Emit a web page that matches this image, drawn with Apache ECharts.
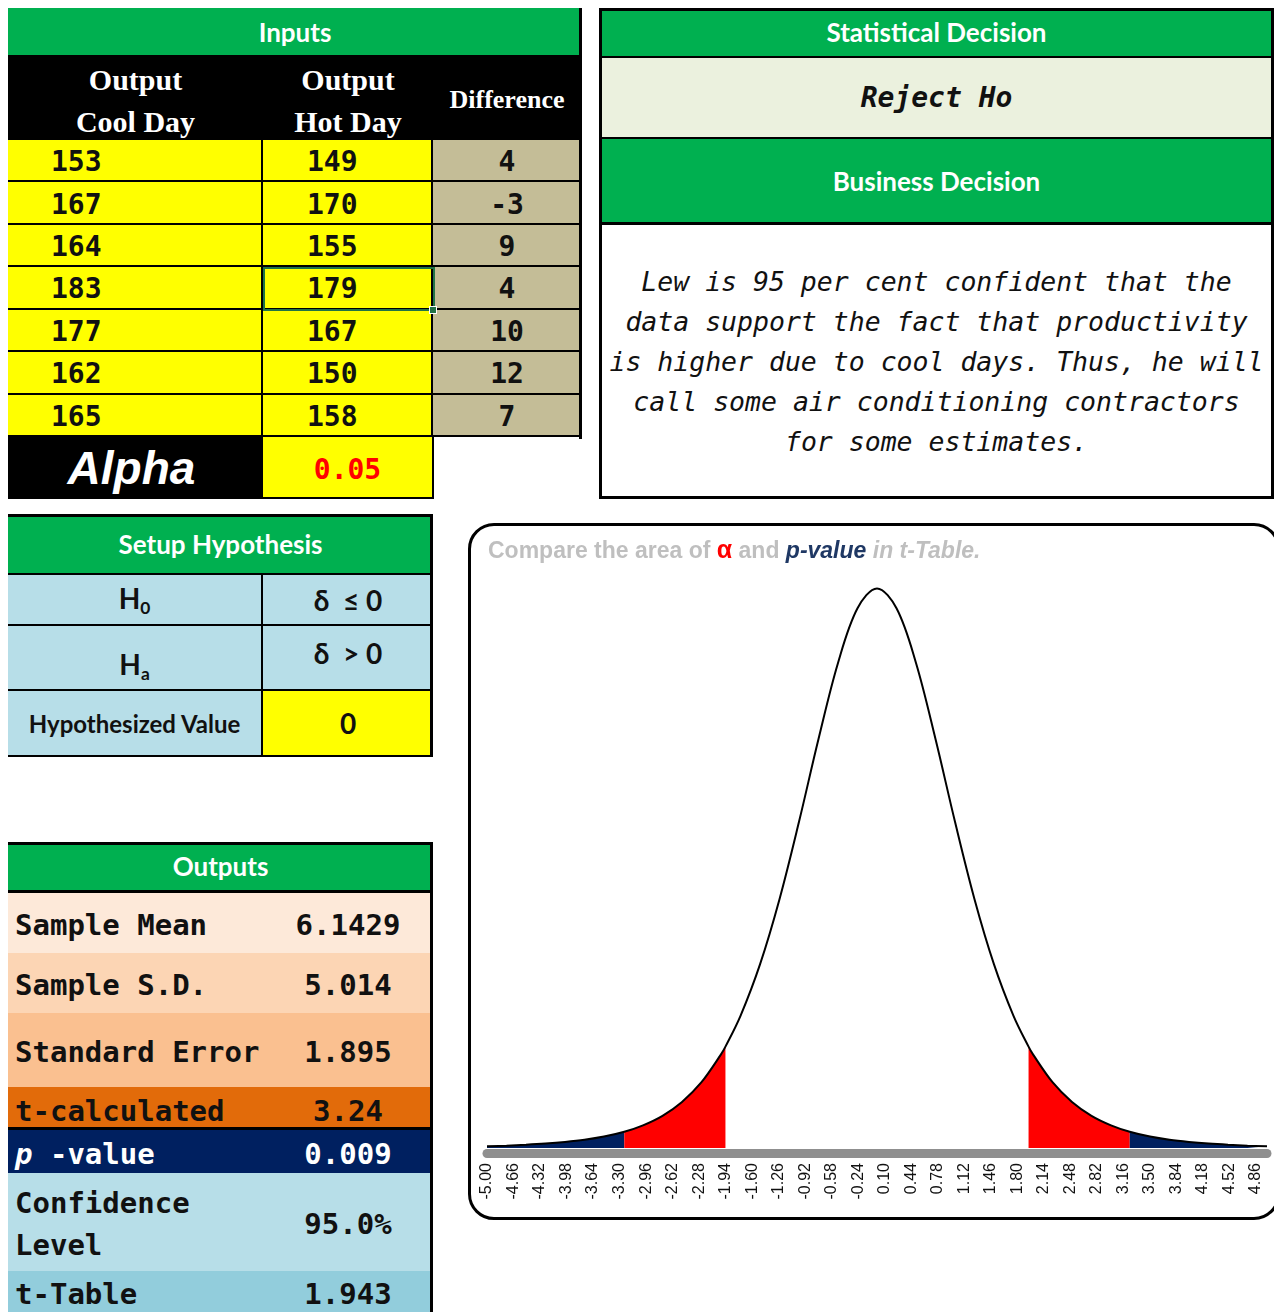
<!DOCTYPE html>
<html>
<head>
<meta charset="utf-8">
<title>Paired t-test</title>
<script src="https://cdn.jsdelivr.net/npm/echarts@6.0.0/dist/echarts.min.js"></script>
<style>
html,body{margin:0;padding:0;background:#fff;}
body{position:relative;width:1274px;height:1312px;overflow:hidden;font-family:Lato,"Open Sans",sans-serif;color:#111;}
.cell{position:absolute;box-sizing:border-box;display:flex;align-items:center;justify-content:center;white-space:nowrap;}
.hd{background:#00B050;color:#fff;font-weight:bold;font-size:26px;font-family:Lato,sans-serif;}
.mono{font-family:"DejaVu Sans Mono",monospace;font-weight:bold;}
sub{font-size:0.62em;vertical-align:-0.3em;}
#frame{position:absolute;left:468px;top:523px;width:812px;height:697px;box-sizing:border-box;border:3px solid #000;border-radius:26px;}
#chart{position:absolute;left:468px;top:523px;width:806px;height:697px;}
</style>
</head>
<body>
<div id="frame"></div>
<div id="chart"></div>
<script>
// 输入数据
var coolDay = [153, 167, 164, 183, 177, 162, 165];
var hotDay = [149, 170, 155, 179, 167, 150, 158];
var difference = [4, -3, 9, 4, 10, 12, 7];
var alpha = "0.05";
var decision = "Reject Ho";
var businessText = ["Lew is 95 per cent confident that the",
    "data support the fact that productivity",
    "is higher due to cool days. Thus, he will",
    "call some air conditioning contractors",
    "for some estimates."];
var outputLabels = ["Sample Mean", "Sample S.D.", "Standard Error", "t-calculated", "<i>p</i> -value", "Confidence<br>Level", "t-Table"];
var outputValues = ["6.1429", "5.014", "1.895", "3.24", "0.009", "95.0%", "1.943"];
var tTable = 1.943;
var tCalc = 3.24;

// t分布曲线 (从图上读取的高度)
var tValues = [-5, -4.75, -4.5, -4.25, -4, -3.75, -3.5, -3.24, -3, -2.75, -2.5, -2.25, -2, -1.943, -1.75, -1.5, -1.25, -1, -0.75, -0.5, -0.25,
    0, 0.25, 0.5, 0.75, 1, 1.25, 1.5, 1.75, 1.943, 2, 2.25, 2.5, 2.75, 3, 3.24, 3.5, 3.75, 4, 4.25, 4.5, 4.75, 5];
var density = [0.0012, 0.0016, 0.0022, 0.0030, 0.0041, 0.0056, 0.0078, 0.0111, 0.0155, 0.0220, 0.0315, 0.0450, 0.0640, 0.0693, 0.0904, 0.1256, 0.1702, 0.2231, 0.2797, 0.3317, 0.3691,
    0.3827, 0.3691, 0.3317, 0.2797, 0.2231, 0.1702, 0.1256, 0.0904, 0.0693, 0.0640, 0.0450, 0.0315, 0.0220, 0.0155, 0.0111, 0.0078, 0.0056, 0.0041, 0.0030, 0.0022, 0.0016, 0.0012];
var tickLabels = ["-5.00", "-4.66", "-4.32", "-3.98", "-3.64", "-3.30", "-2.96", "-2.62", "-2.28", "-1.94", "-1.60", "-1.26", "-0.92", "-0.58", "-0.24",
    "0.10", "0.44", "0.78", "1.12", "1.46", "1.80", "2.14", "2.48", "2.82", "3.16", "3.50", "3.84", "4.18", "4.52", "4.86"];

function cell(x, y, w, h, cls, css, html) {
    var d = document.createElement("div");
    d.className = "cell " + (cls || "");
    d.style.cssText = "left:" + x + "px;top:" + y + "px;width:" + w + "px;height:" + h + "px;" + (css || "");
    d.innerHTML = "<div>" + (html === undefined ? "" : html) + "</div>";
    document.body.appendChild(d);
    return d;
}

//Inputs 表
cell(8, 8, 574, 47, "hd", "", "Inputs");
cell(8, 55, 574, 85, "", "background:#000;");
cell(8, 58, 255, 85, "", "color:#fff;font:bold 30px/42px 'Liberation Serif';text-align:center;", "Output<br>Cool Day");
cell(263, 58, 170, 85, "", "color:#fff;font:bold 30px/42px 'Liberation Serif';text-align:center;", "Output<br>Hot Day");
cell(433, 57, 148, 85, "", "color:#fff;font:bold 26px 'Liberation Serif';", "Difference");
var rowH = 42.43;
for (var i = 0; i < coolDay.length; i++) {
    var y = 140 + i * rowH;
    cell(8, y, 255, rowH, "mono", "background:#FFFF00;justify-content:flex-start;padding-left:43px;padding-top:3px;border-bottom:2px solid #000;border-right:2px solid #000;font-size:28px;", coolDay[i]);
    cell(263, y, 170, rowH, "mono", "background:#FFFF00;justify-content:flex-start;padding-left:44px;padding-top:3px;border-bottom:2px solid #000;border-right:2px solid #000;font-size:28px;", hotDay[i]);
    cell(433, y, 148, rowH, "mono", "background:#C4BD97;padding-top:3px;border-bottom:2px solid #000;font-size:28px;", difference[i]);
}
cell(579, 8, 3, 431, "", "background:#000;");
cell(263, 267.3, 172, 44, "", "border:2px solid #217346;");
cell(429, 306, 8, 8, "", "background:#217346;border:1px solid #fff;");
cell(8, 437, 255, 62, "", "background:#000;color:#fff;font:italic bold 46px 'Liberation Sans';padding-right:8px;", "Alpha");
cell(261, 437, 173, 62, "mono", "background:#FFFF00;color:#FF0000;font-size:28px;padding-top:4px;border:2px solid #000;border-top:none;", alpha);

//决策
cell(599, 8, 675, 48, "hd", "", "Statistical Decision");
cell(599, 56, 675, 83, "mono", "background:#EBF1DE;font-style:italic;font-size:28px;border-top:2px solid #000;border-bottom:2px solid #000;", decision);
cell(599, 139, 675, 86, "hd", "border-bottom:3px solid #000;", "Business Decision");
cell(599, 225, 675, 274, "", "font:italic 26.5px/40px 'DejaVu Sans Mono';text-align:center;", businessText.join("<br>"));
cell(599, 8, 675, 491, "", "border:3px solid #000;");

//假设
cell(8, 514, 425, 61, "hd", "border-bottom:2px solid #000;", "Setup Hypothesis");
var hypLabels = ["H<sub>0</sub>", "H<sub>a</sub>", "Hypothesized Value"];
var hypValues = ["δ&nbsp;&nbsp;≤&nbsp;0", "δ&nbsp;&nbsp;&gt;&nbsp;0", "0"];
var hypTops = [575, 626, 691, 757];
for (var j = 0; j < 3; j++) {
    var hh = hypTops[j + 1] - hypTops[j];
    cell(8, hypTops[j], 255, hh, "", "background:#B7DEE8;border-right:2px solid #000;border-bottom:2px solid #000;font-weight:bold;font-size:" + (j == 2 ? 24 : 28) + "px;" + (j == 1 ? "padding-top:16px;" : ""), hypLabels[j]);
    cell(263, hypTops[j], 170, hh, "", "background:" + (j == 2 ? "#FFFF00" : "#B7DEE8") + ";border-bottom:2px solid #000;font-weight:bold;font-size:28px;" + (j == 1 ? "padding-bottom:10px;" : ""), hypValues[j]);
}
cell(8, 514, 425, 243, "", "border:3px solid #000;border-left:none;border-bottom:2px solid #000;");

//输出
cell(8, 842, 425, 51, "hd", "border-bottom:3px solid #000;", "Outputs");
var outTops = [893, 953, 1013, 1087, 1130, 1173, 1271, 1312];
var outBg = ["#FDE9D9", "#FCD5B4", "#FAC090", "#E26B0A", "#002060", "#B7DEE8", "#92CDDC"];
for (var k = 0; k < outputLabels.length; k++) {
    var oh = outTops[k + 1] - outTops[k];
    var fg = k == 4 ? "#fff" : "#111";
    var bd = k == 3 ? "border-bottom:3px solid #000;" : "";
    cell(8, outTops[k], 425, oh, "", "background:" + outBg[k] + ";" + bd);
    cell(8, outTops[k], 255, oh, "mono", "justify-content:flex-start;padding-left:7px;padding-top:4px;font-size:29px;line-height:42px;color:" + fg + ";", outputLabels[k]);
    cell(263, outTops[k], 170, oh, "mono", "font-size:29px;padding-top:4px;color:" + fg + ";", outputValues[k]);
}
cell(8, 842, 425, 470, "", "border-top:3px solid #000;border-right:3px solid #000;");

//图
var dom = document.getElementById("chart");
var myChart = echarts.init(dom);
function seg(lo, hi) {
    var out = [];
    for (var n = 0; n < tValues.length; n++) {
        if (tValues[n] >= lo - 1e-9 && tValues[n] <= hi + 1e-9) out.push([tValues[n], density[n]]);
    }
    return out;
}
function area(data, color) {
    return {
        type: "line", data: data, smooth: 0.35, showSymbol: false, silent: true, z: 1,
        lineStyle: {width: 0}, areaStyle: {color: color, opacity: 1, origin: "start"}
    };
}
var option = {
    animation: false,
    title: {
        left: 15, top: 11,
        text: "{g|Compare the area of }{a|α}{g| and }{p|p-value}{i| in t-Table.}",
        textStyle: {
            rich: {
                g: {color: "#BFBFBF", fontWeight: "bold", fontSize: 23, fontFamily: "Liberation Sans"},
                a: {color: "#FF0000", fontWeight: "bold", fontSize: 25, fontFamily: "Liberation Sans"},
                p: {color: "#1F3864", fontWeight: "bold", fontStyle: "italic", fontSize: 23, fontFamily: "Liberation Sans"},
                i: {color: "#BFBFBF", fontWeight: "bold", fontStyle: "italic", fontSize: 23, fontFamily: "Liberation Sans"}
            }
        }
    },
    grid: {left: 19, right: 7, top: 65, bottom: 72},
    xAxis: {
        type: "value", min: -5, max: 5, offset: 5,
        axisLine: {onZero: false, lineStyle: {color: "#8f8f8f", width: 9}},
        axisTick: {show: false},
        splitLine: {show: false},
        axisLabel: {
            customValues: tickLabels.map(Number),
            formatter: function (v) { return v.toFixed(2); },
            rotate: 90, margin: 10, fontSize: 16, color: "#111", fontFamily: "Liberation Sans"
        }
    },
    yAxis: {type: "value", min: 0, max: 0.383, show: false},
    series: [
        area(seg(-5, -tCalc), "#002060"),
        area(seg(-tCalc, -tTable), "#FF0000"),
        area(seg(tTable, tCalc), "#FF0000"),
        area(seg(tCalc, 5), "#002060"),
        {
            type: "line", data: seg(-5, 5), smooth: 0.35, showSymbol: false, z: 3,
            lineStyle: {color: "#000", width: 2}
        }
    ]
};
myChart.setOption(option, true);
</script>
</body>
</html>
